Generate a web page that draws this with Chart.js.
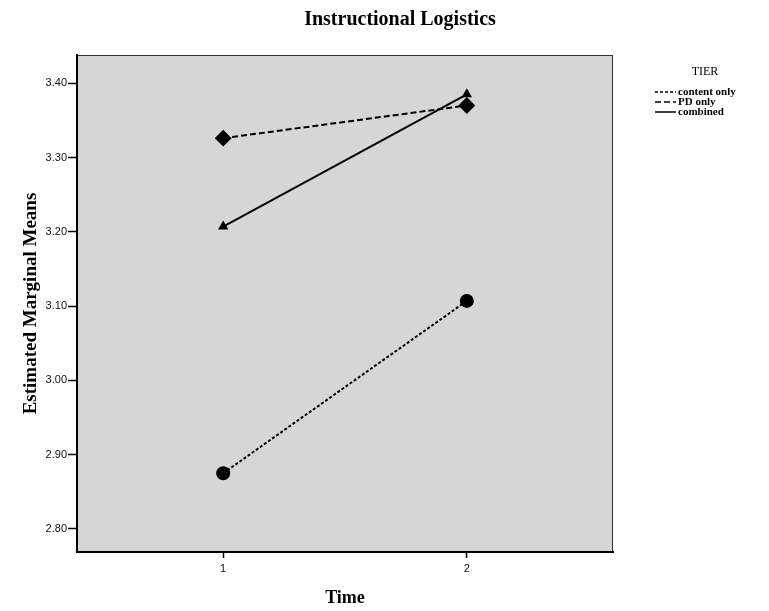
<!DOCTYPE html>
<html>
<head>
<meta charset="utf-8">
<script src="https://cdn.jsdelivr.net/npm/chart.js@4.4.1/dist/chart.umd.min.js"></script>
<style>
  html, body { margin: 0; padding: 0; background: #fff; }
  #wrap { width: 769px; height: 611px; position: relative; }
</style>
</head>
<body>
<div id="wrap"><canvas id="plot"></canvas></div>
<script>
// ---------- data ----------
const chartTitle = "Instructional Logistics";
const timePoints = [1, 2];
const contentOnly = [2.875, 3.107];
const pdOnly = [3.326, 3.370];
const combined = [3.207, 3.385];
const seriesNames = ["content only", "PD only", "combined"];
const yTicks = [2.80, 2.90, 3.00, 3.10, 3.20, 3.30, 3.40];
const xTicks = [1, 2];

const SERIF = "'Liberation Serif', 'DejaVu Serif', serif";
const SANS = "'Liberation Sans', Arial, sans-serif";

const pts = (vals) => timePoints.map((t, i) => ({ x: t, y: vals[i] }));

// ---------- plugins ----------
// grey plot panel + thin frame, drawn under the data
const plotFrame = {
  id: "plotFrame",
  beforeDraw(chart) {
    const { ctx, chartArea: a } = chart;
    ctx.save();
    ctx.fillStyle = "#d6d6d6";
    ctx.fillRect(a.left, a.top, a.right - a.left, a.bottom - a.top);
    ctx.strokeStyle = "#333";
    ctx.lineWidth = 1;
    ctx.strokeRect(a.left + 0.5, a.top + 0.5, a.right - a.left - 1, a.bottom - a.top - 1);
    ctx.restore();
  },
};

// title sits centred on the whole page, not the plot
const pageTitle = {
  id: "pageTitle",
  afterDraw(chart) {
    const { ctx } = chart;
    ctx.save();
    ctx.fillStyle = "#000";
    ctx.font = "bold 20px " + SERIF;
    ctx.textAlign = "center";
    ctx.textBaseline = "middle";
    ctx.fillText(chartTitle, 400, 20);
    ctx.restore();
  },
};

const tierLegend = {
  id: "tierLegend",
  afterDraw(chart) {
    const { ctx } = chart;
    ctx.save();
    ctx.fillStyle = "#000";
    ctx.textBaseline = "middle";
    ctx.font = "12px " + SERIF;
    ctx.textAlign = "center";
    ctx.fillText("TIER", 705, 72);
    ctx.font = "bold 11px " + SERIF;
    ctx.textAlign = "left";
    chart.data.datasets.forEach((ds, i) => {
      const y = 92 + i * 10;
      ctx.strokeStyle = "#000";
      ctx.lineWidth = 1.5;
      ctx.setLineDash(ds.borderDash || []);
      ctx.beginPath();
      ctx.moveTo(655, y);
      ctx.lineTo(676, y);
      ctx.stroke();
      ctx.setLineDash([]);
      ctx.fillText(ds.label, 678, y);
    });
    ctx.restore();
  },
};

// ---------- chart ----------
const ctx = document.getElementById("plot").getContext("2d");
new Chart(ctx, {
  type: "line",
  data: {
    datasets: [
      {
        label: seriesNames[0], data: pts(contentOnly),
        borderColor: "#000", backgroundColor: "#000", borderWidth: 2,
        borderDash: [3, 2], pointStyle: "circle", pointRadius: 6,
      },
      {
        label: seriesNames[1], data: pts(pdOnly),
        borderColor: "#000", backgroundColor: "#000", borderWidth: 2,
        borderDash: [6, 3], pointStyle: "rectRot", pointRadius: 7,
      },
      {
        label: seriesNames[2], data: pts(combined),
        borderColor: "#000", backgroundColor: "#000", borderWidth: 2,
        pointStyle: "triangle", pointRadius: 4,
      },
    ],
  },
  options: {
    responsive: true,
    maintainAspectRatio: false,
    animation: false,
    layout: { padding: { top: 55, right: 156, bottom: 0, left: 0 } },
    scales: {
      x: {
        type: "linear",
        min: 0.4, max: 2.6,
        afterBuildTicks: (s) => { s.ticks = xTicks.map((v) => ({ value: v })); },
        afterFit: (s) => { s.height = 59; },
        grid: { drawOnChartArea: false, drawTicks: true, tickLength: 6, color: "#000", tickWidth: 1.5 },
        border: { display: true, color: "#000", width: 2 },
        ticks: { color: "#111", padding: 4, font: { family: SANS, size: 11 }, callback: (v) => String(v) },
        title: { display: true, text: "Time", color: "#000", font: { family: SERIF, size: 18, weight: "bold" }, padding: { top: 0, bottom: 2 } },
      },
      y: {
        type: "linear",
        min: 2.769, max: 3.438,
        afterBuildTicks: (s) => { s.ticks = yTicks.map((v) => ({ value: v })); },
        afterFit: (s) => { s.width = 77; },
        grid: { drawOnChartArea: false, drawTicks: true, tickLength: 9, color: "#000", tickWidth: 1.5 },
        border: { display: true, color: "#000", width: 2 },
        ticks: { color: "#111", padding: 1, font: { family: SANS, size: 11 }, callback: (v) => Number(v).toFixed(2) },
        title: { display: true, text: "Estimated Marginal Means", color: "#000", font: { family: SERIF, size: 19, weight: "bold" }, padding: { top: 20, bottom: 0 } },
      },
    },
    plugins: {
      legend: { display: false },
      tooltip: { enabled: false },
      title: { display: false },
    },
  },
  plugins: [plotFrame, pageTitle, tierLegend],
});
</script>
</body>
</html>
